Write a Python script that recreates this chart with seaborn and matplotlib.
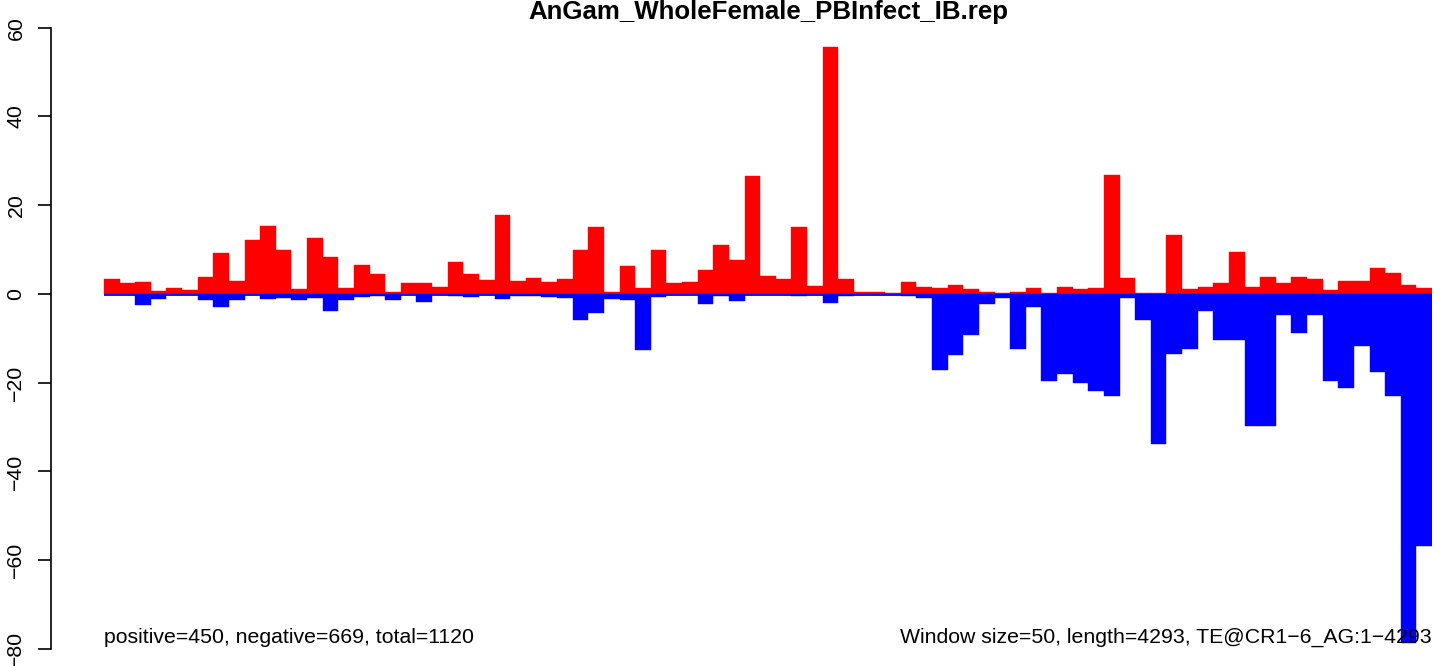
import matplotlib
matplotlib.use("Agg")
import matplotlib.pyplot as plt
import seaborn as sns
import numpy as np
import pandas as pd

title = "AnGam_WholeFemale_PBInfect_IB.rep"
left_note = "positive=450, negative=669, total=1120"
right_note = "Window size=50, length=4293, TE@CR1\u22126_AG:1\u22124293"

positive = [3.4, 2.5, 2.7, 0.7, 1.4, 0.9, 3.9, 9.3, 2.9, 12.2,
            15.4, 10.0, 1.1, 12.5, 8.4, 1.4, 6.6, 4.5, 0.5, 2.5,
            2.5, 1.6, 7.3, 4.5, 3.2, 17.9, 2.9, 3.6, 2.7, 3.4,
            9.8, 15.0, 0.5, 6.3, 1.4, 10.0, 2.5, 2.7, 5.4, 11.1,
            7.7, 26.5, 4.1, 3.4, 15.0, 1.8, 55.7, 3.4, 0.5, 0.5,
            0.2, 2.7, 1.6, 1.4, 2.0, 1.1, 0.5, 0.2, 0.5, 1.4,
            0.2, 1.6, 1.1, 1.4, 26.8, 3.6, 0.2, 0.2, 13.4, 1.1,
            1.6, 2.5, 9.5, 1.6, 3.9, 2.5, 3.9, 3.4, 0.9, 2.9,
            2.9, 5.9, 4.8, 2.0, 1.4]
negative = [0, 0, -2.5, -1.1, 0, 0, -1.4, -2.9, -1.4, 0,
            -1.1, -0.9, -1.4, -0.9, -3.9, -1.4, -0.7, -0.5, -1.4, 0,
            -1.8, 0, -0.5, -0.7, 0, -1.1, -0.5, -0.5, -0.7, -0.9,
            -5.9, -4.3, -1.1, -1.4, -12.7, -0.7, 0, 0, -2.3, -0.5,
            -1.6, 0, 0, 0, -0.5, 0, -2.0, -0.5, 0, 0,
            0, -0.5, -0.9, -17.2, -13.8, -9.3, -2.3, -0.9, -12.5, -2.9,
            -19.7, -18.1, -20.0, -21.8, -23.1, -0.9, -5.9, -33.8, -13.6, -12.5,
            -3.9, -10.4, -10.4, -29.7, -29.7, -4.8, -8.8, -4.8, -19.5, -21.1,
            -11.8, -17.5, -23.1, -78.6, -56.9]
yticks = [-80, -60, -40, -20, 0, 20, 40, 60]

n = len(positive)
df = pd.DataFrame({"window": np.arange(n), "pos": positive, "neg": negative})

plt.rcParams["font.family"] = ["Liberation Sans", "DejaVu Sans"]

W, H = 1444, 666
fig = plt.figure(figsize=(W / 100, H / 100), dpi=100)
y_top, y_bot = 27.7, 649.0
ax_left, ax_right = 51.0, 1432.0
ax = fig.add_axes([ax_left / W, (H - y_bot) / H, (ax_right - ax_left) / W, (y_bot - y_top) / H])

sns.barplot(data=df, x="window", y="pos", color="#ff0000", saturation=1, width=1,
            errorbar=None, edgecolor="#ff0000", linewidth=0.3, ax=ax)
sns.barplot(data=df, x="window", y="neg", color="#0000ff", saturation=1, width=1,
            errorbar=None, edgecolor="#0000ff", linewidth=0.3, ax=ax)
ax.hlines(-0.2, -0.5, n - 0.5, colors="#0000ff", linewidth=1.3, zorder=5)

px_per_bar = (ax_right - 104.0) / n
ax.set_xlim(-0.5 - (104.0 - ax_left) / px_per_bar, n - 0.5)
ax.set_ylim(-80, 60)

for s in ["top", "right", "bottom"]:
    ax.spines[s].set_visible(False)
ax.spines["left"].set_bounds(-80, 60)
ax.spines["left"].set_linewidth(1.2)
ax.set_xticks([])
ax.set_xlabel("")
ax.set_ylabel("")
ax.set_yticks(yticks)
ax.set_yticklabels([str(v).replace("-", "\u2212") for v in yticks])
ax.tick_params(axis="y", length=9.4, width=1.2, pad=9, labelsize=15.3, labelrotation=90)
for lab in ax.get_yticklabels():
    lab.set_va("center")
ax.set_facecolor("white")
ax.grid(False)

ax.text(-0.5, -78.7, left_note, ha="left", va="baseline", fontsize=15.3)
ax.text(n - 0.5, -78.7, right_note, ha="right", va="baseline", fontsize=15.3, zorder=10)

fig.text(768 / W, 1 - 12.3 / H, title, ha="center", va="center", fontsize=18.6, fontweight="bold")

fig.savefig("out.png", dpi=100, facecolor="white")
